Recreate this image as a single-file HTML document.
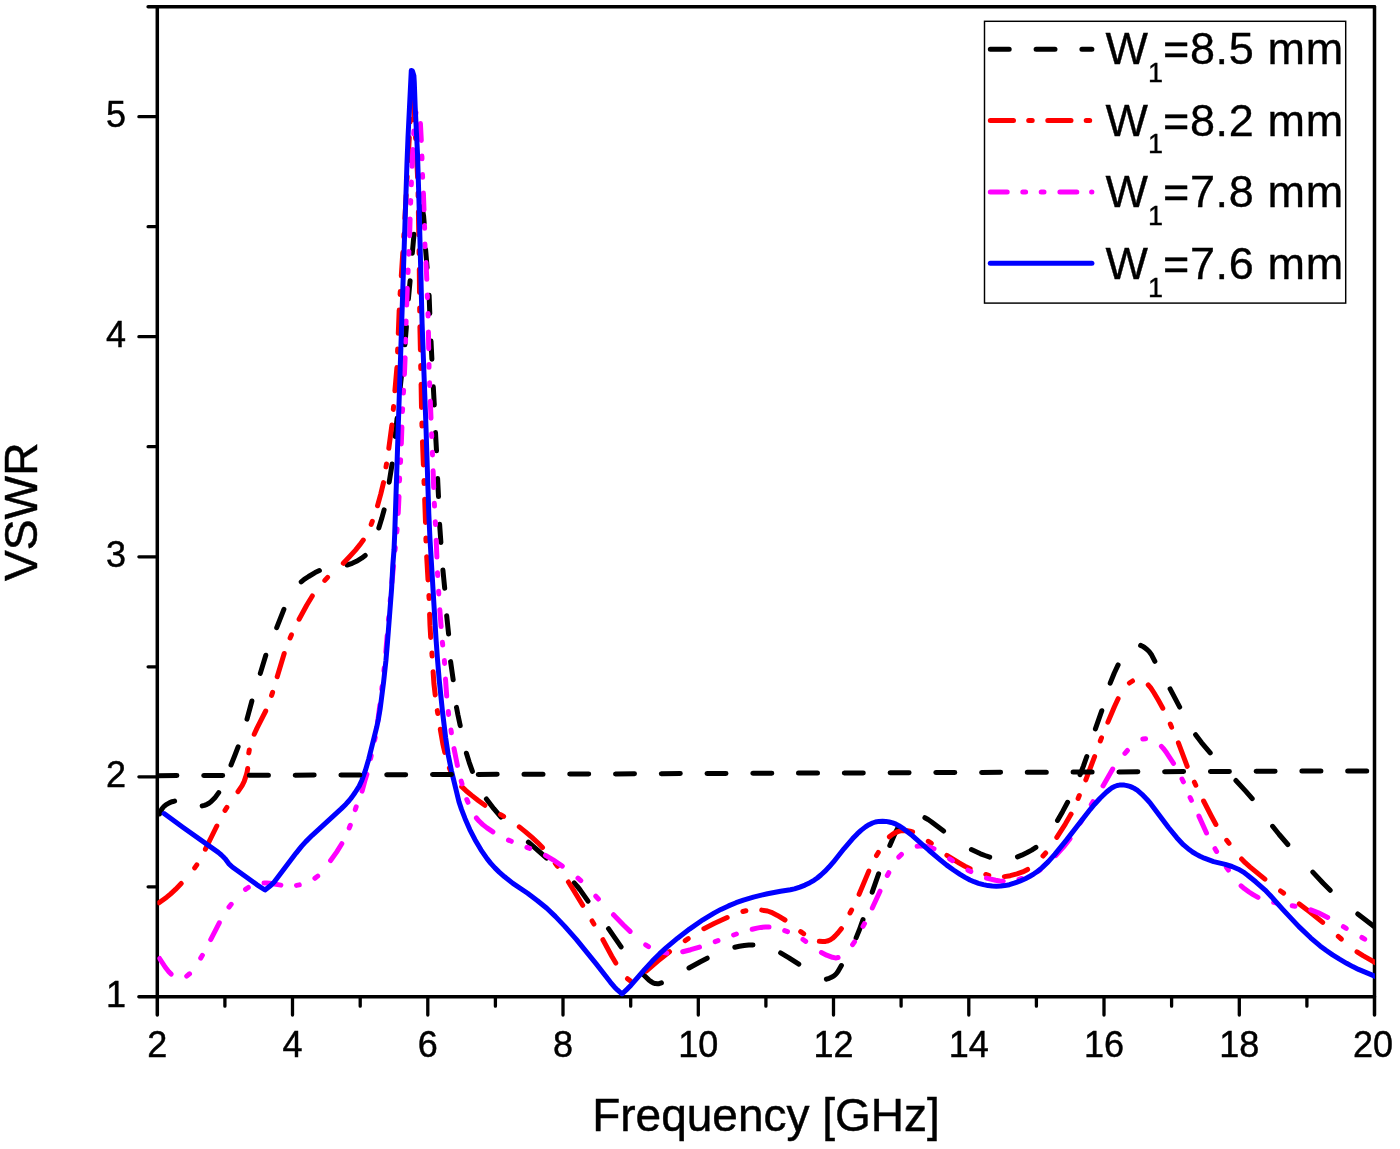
<!DOCTYPE html>
<html lang="en">
<head>
<meta charset="utf-8">
<title>VSWR versus Frequency</title>
<style>
html,body{margin:0;padding:0;background:#fff;}
body{width:1400px;height:1149px;overflow:hidden;}
svg{display:block;}
</style>
</head>
<body>
<svg width="1400" height="1149" viewBox="0 0 1400 1149">
<rect width="1400" height="1149" fill="#fff"/>
<g stroke="#000" fill="none" stroke-linecap="round">
<path stroke-width="3.5" d="M157.3 6.7V1015.0M1374.5 6.7V1015.0"/>
<path stroke-width="3.5" d="M148.1 6.7H1374.5M138.9 996.8H1374.5"/>
<path stroke-width="3.3" d="M224.9 996.8v9.4M292.5 996.8v18.3M360.2 996.8v9.4M427.8 996.8v18.3M495.4 996.8v9.4M563.0 996.8v18.3M630.7 996.8v9.4M698.3 996.8v18.3M765.9 996.8v9.4M833.5 996.8v18.3M901.1 996.8v9.4M968.8 996.8v18.3M1036.4 996.8v9.4M1104.0 996.8v18.3M1171.6 996.8v9.4M1239.3 996.8v18.3M1306.9 996.8v9.4M157.3 886.8h-9.2M157.3 776.8h-18.4M157.3 666.8h-9.2M157.3 556.8h-18.4M157.3 446.7h-9.2M157.3 336.7h-18.4M157.3 226.7h-9.2M157.3 116.7h-18.4"/>
</g>
<clipPath id="frame"><rect x="157.3" y="6.7" width="1217.6" height="990.1"/></clipPath>
<g fill="none" stroke-width="5.0" stroke-linecap="round" stroke-linejoin="round" clip-path="url(#frame)">
<path stroke="#000" d="M159.6 814L160.5 811.5 161.6 809.5 162.9 807.6 164.5 805.9 166.7 804.3 169.3 802.8 172.1 801.7 174.6 801.1M202.2 805.9L204.4 805.3 207 804.3 209 803.2 211.2 801.6 214.7 798.1 218.7 792.6M231 765L234.8 755.5 238.1 746.8M247 719.2L251.9 701M260.3 673.4L265.8 655.2M276.7 627.6L283.9 609.4M301.2 581.9L304.2 579.4 308.6 576.5 315.1 572.6 319.4 570.6M347 565L352.2 563.3 356.5 561.3 361.6 558.2 365.2 555.5M378.8 528L381.7 518.6 384.1 509.8M389.2 482.2L392.1 464M395.1 436.4L397.1 418.2M399.9 390.6L401.8 372.4M404.9 344.8L406.4 326.6M408.4 299L410.1 280.8M412.3 253.2L414 234.3M419.8 206.2L420.7 207 421.6 208 422.6 210.4 423.6 215.9 424.2 223.2M425.6 249.4L427.1 267.6M429.1 295.2L429.8 313.4M431 341L431.9 359.2M433.3 386.8L434.3 405M435.5 432.6L436.5 450.8M437.6 478.4L438.5 496.6M439.6 524.2L440.9 542.4M442.9 570L444.7 588.2M446.7 615.8L448.6 634M450.6 661.6L453.2 679.8M456.5 707.4L457.9 714.8 460.2 725.6M466.4 753.2L469.2 762.3 472.4 771.4M486.4 799L493.8 808.7 501 817.2M528.4 842.2L546.6 858M574.2 882.9L577.1 886.1 580.1 889.9 588 901.1M608.5 928.7L621.1 946.9M643.2 974.5L648.8 979.9 650.9 981.5 653.1 982.8 655.3 983.6 657.5 983.8 659 983.7 661.4 982.9M689 968L700.4 961.7 707.2 958.2M734.8 947.2L739.3 946.3 744.2 945.5 748.8 945.1 753 945M780.6 952.9L789 957.8 798.8 964.2M826.4 979.2L829.2 978.3 831.4 977.3 833.6 976.1 835.4 974.6 836.8 973.1 838.1 971.3 841.4 965.5M856.1 937.9L859.2 930.3 863 919.7M872.2 892.1L878.6 873.9M889.8 845.4L895.2 833.1 898.6 826.5M924.9 817.7L928.1 819.5 931.3 821.7 943.6 831.1M971.4 849.6L980.5 853.8 985 855.5 989.7 857.1M1017.5 856.8L1021.7 855.2 1026.7 852.8 1031.7 850.1 1035.9 847.4M1057.5 820.5L1062.7 811.4 1067.6 802.3M1080.1 774.7L1083.4 766.1 1086.8 756.5M1095.4 728.9L1101.8 710.7M1110.2 683.1L1114.3 673 1118.1 664.9M1140.6 645.4L1142.4 646.2 1144.5 647.5 1147 649.5 1149.1 651.6 1151.7 655.1 1154.9 661.3M1170.1 688.9L1179.7 707.1M1195.6 734.7L1201.5 742.6 1210.2 752.9M1235.9 780.5L1245.9 791.4 1252.2 798.7M1272.6 826.3L1279.2 834.5 1287.8 844.5M1312.8 872.1L1323.2 883.3 1330.2 890.3M1357.8 914L1376 928"/>
<path stroke="#f00" d="M159 902.8L166.7 897.2 170.4 894.1 175.5 889.4 181.2 883.5M194.7 867.9L196.8 864.9M205.4 849.2L216.8 826M225 810.4L226.9 807.4M238 791.7L242.1 785.6 244.2 781.4 246.3 775.1 247.2 771.6 247.7 768.5M248.8 752.9L249.3 749.9M254.2 734.2L257 728.1 265.7 711M271.6 695.4L272.6 692.4M277.2 676.7L284.2 653.5M290.1 637.9L291.4 634.9M299.1 619.2L306.7 605.2 312.3 596M324.8 580.4L327.6 577.4M343.3 563.3L349.7 556.5 355.5 550.1 359.7 544.9 363.3 540.1M371.2 524.4L372.3 521.4M377.5 505.8L380.8 493.8 383.5 482.6M386 466.9L386.5 463.9M388.8 448.3L391.9 425.1M393.3 409.4L393.6 406.4M394.9 390.8L396.9 367.6M397.6 351.9L397.7 348.9M398.3 333.3L399.2 310.1M400.1 294.4L400.3 291.4M401.3 275.8L402.8 252.6M403.8 236.9L404 233.9M404.9 218.3L406.2 195.1M407 179.4L407.2 176.4M408 160.8L409.3 137.6M410.2 121.9L410.4 118.9M412 103.3L412.5 100 413.2 104.5 413.7 109.5 414.3 119.9M415.4 135.6L415.6 138.6M416.5 154.2L417.6 177.4M418.1 193.1L418.1 196.1M418.4 211.7L418.8 234.9M419.1 250.6L419.1 253.6M419.3 269.2L419.5 292.4M419.7 308.1L419.7 311.1M419.9 326.7L420.4 349.9M420.7 365.6L420.8 368.6M421.1 384.2L421.5 407.4M421.9 423.1L422 426.1M422.5 441.7L423.4 464.9M424 480.6L424.1 483.6M424.7 499.2L425.5 522.4M425.9 538.1L426 541.1M426.7 556.7L428 579.9M428.9 595.6L429.1 598.6M429.6 614.2L430 625.4 430.7 637.4M431.9 653.1L432.1 656.1M433.1 671.7L433.9 683.4 435.2 694.9M437.3 710.6L437.8 713.6M440.3 729.2L442.8 743.6 444.8 752.4M449.4 768.1L450.6 771.1M461.7 786.7L466 790.7 471.7 795.4 478.2 800.5 484.9 805.3M500.6 814.6L503.6 816.4M519.3 826.9L525.2 831.6 531.7 837.2 537.6 842.6 542.5 847.5M555.3 863.3L557.5 866.3M568.4 882L573.7 890.4 582.7 905.3M592.1 921L593.9 924M602.9 939.7L611.8 956.3 615.8 963M627.5 978.7L630.5 981M646.2 971.2L658.1 960.9 669.5 951.7M685.2 940.7L688.2 938.7M703.9 928.7L714.1 923.6 727.2 917.6M742.9 911.5L745.9 910.8M761.7 910.1L767.5 911 771.3 912.3 777.4 915.4 785 920M800.7 931.6L803.7 933.7M819.3 941.3L822.7 941.5 825.5 941.4 828.3 940.7 830.4 939.8 832.6 938.3 835.2 935.9 838.1 932.7 841.4 928.6M850 913L851.6 910M859.1 894.3L868.8 871.1M876.5 855.5L878.3 852.5M889.4 836.8L892.1 834.6 894.7 833 897.8 831.6 900.5 830.8 903.3 830.5 907.2 830.7 910 831.2 912.6 832M928.3 841.3L931.3 843.4M946.9 855.4L959.2 863 964.9 866.2 970.1 868.8M985.8 874.5L988.8 875.3M1004.4 876.6L1010.2 875.7 1016.9 873.9 1022.7 871.9 1027.6 869.4M1043 856L1045.7 853M1056.8 837.3L1065.3 824.1 1071.1 814.1M1078.1 798.5L1079.3 795.5M1085.8 779.8L1094.6 756.6M1100.3 741L1101.5 737.9M1107.9 722.1L1114.4 706.7 1118.1 698.7M1129.4 683L1132.5 681M1148.2 684.8L1150.8 687.9 1154.1 693 1158.4 700.3 1162.8 708.2M1170.3 724L1171.6 727.1M1178.4 742.9L1187.2 766.3M1194.4 782.2L1195.8 785.2M1203.6 801L1211.3 816 1215.9 824.5M1226.7 840.3L1229 843.3M1241.6 859L1245.2 862.7 1250.2 867.1 1264.9 879.1M1280.6 891L1283.6 893.1M1299.3 903.9L1310.2 912.3 1322.7 922.4M1338.3 936.4L1341.3 939M1357 951.8L1363 955.6 1376 963"/>
<path stroke="#f0f" d="M159.6 958.5L165.1 967 168.8 971.7 171.1 974.1M186.7 976.1L189.5 973.8M200.7 958.1L202.4 955.3M210.7 939.6L219.3 922.8M229 907.1L231.2 904.3M245.5 889.4L248.3 887.5M264 882.9L266.7 883 269.7 883.2 280.9 885.1M296.5 885.4L299.3 884.9M314.9 878.3L317.7 876.1M330.6 860.5L336.6 852.1 341.8 843.7M349.2 828L350.3 825.3M355.3 809.6L356.2 806.8M362.1 791.1L364.8 781 366.9 774.3M370.6 758.6L371.2 755.8M374.6 740.2L375.2 737.4M377.7 721.7L379.9 704.8M381.8 689.2L382.1 686.4M383.9 670.8L384.2 668M385.8 652.2L387.2 635.4M388.5 619.8L388.8 617M390.2 601.3L390.4 598.6M391.9 582.8L393.5 566M395 550.3L395.3 547.6M396.8 531.9L397.1 529.1M398.2 513.4L399 496.6M399.5 480.9L399.6 478.1M400.5 462.5L400.6 459.7M401.3 444L401.9 427.1M402.4 411.5L402.6 408.7M403.4 393.1L403.6 390.3M404.4 374.5L405.1 357.7M405.5 342.1L405.6 339.3M406 323.6L406.1 320.9M406.7 305.1L407.3 288.3M408 272.6L408.1 269.9M408.8 254.2L408.9 251.4M409.6 235.7L410.1 218.9M410.6 203.2L410.7 200.4M411.3 184.8L411.4 182M412.1 166.3L412.9 149.4M413.7 133.8L413.9 131M415.5 115.4L416 112.6M420.4 123.5L421.3 140.4M421.9 156L422 158.8M422.5 174.5L422.6 177.3M423.4 193L424 209.8M424.5 225.5L424.6 228.3M424.9 243.9L425 246.7M426 262.4L426.8 279.3M427.3 294.9L427.4 297.7M428 313.4L428.1 316.1M428.4 331.9L428.7 348.7M429 364.4L429 367.2M429.6 382.8L429.7 385.6M430.3 401.3L431 418.2M431.6 433.8L431.7 436.6M432.4 452.3L432.5 455M433.1 470.8L433.7 487.6M434.3 503.3L434.5 506.1M435.3 521.7L435.5 524.5M436.2 540.2L436.9 557.1M437.5 572.7L437.7 575.5M438.6 591.2L438.8 593.9M439.8 609.7L441.1 626.5M442.4 642.2L442.7 645M444.4 660.6L444.6 663.4M445.5 679.1L446.7 696M448.3 711.6L448.6 714.4M451 730L451.4 732.8M454 748.6L457.4 765.4M461.2 781.1L462 783.9M466.8 799.5L468 802.3M476.4 818L479.3 821.3 482.8 824.6 487 827.9 492.9 831.9M508.5 840.1L511.3 841.3M526.9 847.3L529.7 848.4M545.5 855.3L553.1 859.8 562.3 866.1M578 878.1L580.8 880.6M595.8 896.2L598.4 899M613.5 914.7L623.7 925.2 630.1 931.4M645.7 944.9L648.5 946.6M664.2 952.6L666.9 953.1M682.7 951.7L690.7 949.7 699.5 947.1M715.2 941.6L718 940.6M733.6 935L736.4 934M752.2 929.3L757 928.1 760.9 927.4 765.5 927 769 927M784.7 930.7L787.5 931.7M803 939.5L805.7 941.3M821.4 952.6L826.6 955.2 832.4 957.3 835.3 957.9 836.4 957.9 838.1 957.5M852.6 944.6L854.5 941.9M863 926.4L864.5 923.6M872.3 908L880 891.2M887.3 875.5L888.8 872.7M898.8 857.1L901.4 854.4M917.1 846.3L921.5 845.8 925.5 846.1 929.7 847.1 934 848.9M949.6 858.9L952.4 860.7M968 870.2L970.8 871.6M986.5 878.1L995.6 880.3 999.7 881 1003.3 881.2M1019 879.3L1021.8 878.5M1037.4 871.6L1040.2 869.9M1055.7 855.6L1063.4 847.1 1070 838.7M1080.2 823L1081.9 820.2M1091.3 804.5L1093 801.7M1103 785.9L1112.7 769M1124.9 753.3L1127.4 750.5M1142.8 739L1145.6 738.7M1161.4 746.4L1163.8 749 1166.6 752.8 1173.5 763.3M1182 779L1183.4 781.8M1190.1 797.5L1191.4 800.3M1198.9 816.1L1206.5 833M1215 848.7L1216.6 851.5M1226.4 867.2L1228.4 870M1241.1 885.8L1244.6 888.8 1249 892 1253.5 894.9 1258 897.4M1273.7 902.4L1276.5 903M1292.2 905.7L1295 906.2M1310.8 909.8L1318.4 912.8 1327.7 917.4M1343.4 926.7L1346.2 928.4M1361.9 937.5L1364.7 939.2"/>
<path stroke="#00f" d="M164.1 813.6L183.5 827.7 218.3 852.4 221.4 855 223.2 856.7 225 858.6 228.7 863.6 232.3 867 244.5 875.7 256.7 884.6 265 890 270.7 885.5 274.2 881.9 296.1 853.1 301.5 846.4 305.8 841.6 312.2 835.3 341.1 808.9 345.9 804.2 349.2 800.5 351.7 797.4 354.8 793 359.2 786.1 361.9 780.2 365.3 770.7 368.7 759.2 376.7 727.2 378.5 718.7 380.1 709.2 383.6 682 385.9 660.8 387.4 643.2 391.6 588.6 392.8 565.5 394 550 394.7 534.3 407 162.5 408 137.5 411.3 70.4 412.3 71 412.5 71.3 413.9 75.8 414.3 82.5 415.2 107.4 417.5 153.5 418.9 198.4 422.1 323.7 425.8 421.8 428.8 513.5 430 539.5 436.1 640.2 437.6 660.6 439.2 679.7 442.4 710.7 445.6 737.4 448.2 754.7 451.4 770.6 459 801.9 461.5 809.4 465.1 818.7 469.8 829.6 475 839.7 481.1 850.1 487.2 858.9 490.8 863.4 494.9 867.9 499.2 872.1 504.6 876.8 512.9 883.4 527.6 893.3 537.5 900.7 546.8 908.3 555.3 916.4 564.8 926.4 576.3 939.4 596.2 963.9 610.5 982.3 614.4 986.9 617.4 989.9 622 994 627.7 988.6 631 985.2 644.7 969.4 652.3 961.1 659.7 953.7 666.3 947.6 677.6 938.2 689.5 929.1 702.9 919.8 714 913.1 720.9 909.4 728.5 905.9 736.1 902.7 743.4 900.1 753.4 897.1 767.5 893.7 780.6 891.2 790.3 889.8 794.4 888.9 799.9 887.1 805 885.1 809.9 882.7 814 880.3 817.3 878 820.9 875 824.8 871.4 829 867.1 833.3 862.2 843.9 848.8 852.7 838.6 857.2 833.9 861 830.4 865.5 826.9 869 824.7 872.5 823 875.4 822 878.9 821.4 882.5 821.2 885.8 821.4 889.2 822 892.7 822.9 896 824.2 898.8 825.7 904.1 829.2 912.6 835.8 929.1 850.5 940.2 859.8 946.7 865.1 953.5 870 960.1 874.4 965.1 877.4 970 880 974 881.7 978.5 883.3 983.4 884.6 988 885.6 992.2 886.1 996.3 886.3 1000.8 886.1 1004.7 885.6 1009.4 884.7 1014.1 883.2 1019.7 881.2 1025.3 878.7 1029.5 876.5 1034 873.8 1037.7 871.2 1041.8 867.9 1048.1 861.9 1054.8 854.4 1066.2 840.4 1090.3 809.3 1094.6 804.2 1100.1 798.2 1106.3 792.2 1110.3 789 1112.6 787.4 1114.5 786.5 1117.2 785.5 1119.5 785.1 1121.9 784.9 1124.3 785.1 1127.1 785.6 1129.9 786.4 1132.8 787.6 1135 788.8 1137.2 790.2 1142 794.3 1147.5 800 1150.5 803.4 1168.5 827.5 1176.8 837.7 1183.3 844.7 1189.2 849.6 1192.5 852 1196.5 854.4 1200 856.3 1204.3 858.2 1213.6 861.6 1225.3 864.4 1232 866.5 1238.4 869.2 1243.4 872.1 1247.6 875.2 1255.7 881.8 1265.1 890.1 1270.3 895.5 1283.2 909.8 1298.9 926.6 1310.6 937.8 1320.1 945.9 1326.3 950.5 1332.6 954.9 1339.5 959.2 1346.6 963.3 1352.7 966.6 1358.5 969.4 1376 976.6"/>
<path stroke="#000" d="M157.9 775.7L176.9 775.6M203.7 775.5L222.7 775.4M249.4 775.3L268.4 775.3M295.2 775.2L314.2 775.1M340.9 775L359.9 774.9M386.7 774.8L405.7 774.7M432.5 774.6L451.5 774.5M478.2 774.4L497.2 774.3M524 774.2L543 774.2M569.7 774.1L588.7 774M615.5 773.9L634.5 773.8M661.3 773.7L680.3 773.6M707 773.5L726 773.4M752.8 773.3L771.8 773.2M798.5 773.1L817.5 773.1M844.3 773L863.3 772.9M890.1 772.8L909.1 772.7M935.8 772.6L954.8 772.5M981.6 772.4L1000.6 772.3M1027.3 772.2L1046.3 772.2M1073.1 772L1092.1 772M1118.9 771.9L1137.9 771.8M1164.6 771.7L1183.6 771.6M1210.4 771.5L1229.4 771.4M1256.1 771.3L1275.1 771.2M1301.9 771.1L1320.9 771.1M1347.7 770.9L1366.7 770.9"/>
</g>
<g font-family="'Liberation Sans', sans-serif" fill="#000" stroke="#000" stroke-width="0.45">
<g font-size="36" text-anchor="middle">
<text x="157.3" y="1056.7">2</text>
<text x="292.5" y="1056.7">4</text>
<text x="427.8" y="1056.7">6</text>
<text x="563.0" y="1056.7">8</text>
<text x="698.3" y="1056.7">10</text>
<text x="833.5" y="1056.7">12</text>
<text x="968.8" y="1056.7">14</text>
<text x="1104.0" y="1056.7">16</text>
<text x="1239.3" y="1056.7">18</text>
<text x="1373.0" y="1056.7">20</text>
</g>
<g font-size="36" text-anchor="end">
<text x="126" y="1006.6">1</text>
<text x="126" y="786.6">2</text>
<text x="126" y="566.6">3</text>
<text x="126" y="346.5">4</text>
<text x="126" y="126.5">5</text>
</g>
<text font-size="46" text-anchor="middle" x="766" y="1130.5">Frequency [GHz]</text>
<text font-size="46.2" text-anchor="middle" transform="translate(37.4 511.8) rotate(-90)">VSWR</text>
</g>
<rect x="984.5" y="21.3" width="361.2" height="281.8" fill="#fff" stroke="#000" stroke-width="1.45"/>
<g fill="none" stroke-width="5.0" stroke-linecap="round">
<path stroke="#000" d="M990.3 49.2H1091.9" stroke-dasharray="18.9 26.9"/>
<path stroke="#f00" d="M990.3 120.4H1091.9" stroke-dasharray="23.2 15.2 3.5 15.6"/>
<path stroke="#f0f" d="M990.3 192.1H1091.9" stroke-dasharray="16.9 15.6 2.8 15.6 2.8 15.9 16.9 14.8 3 100"/>
<path stroke="#00f" d="M990.3 263.2H1091.9"/>
</g>
<g font-family="'Liberation Sans', sans-serif" fill="#000" stroke="#000" stroke-width="0.35" font-size="45">
<text x="1105.5" y="64.3">W<tspan font-size="27" dy="17.5">1</tspan><tspan dy="-17.5" letter-spacing="0.65">=8.5 mm</tspan></text>
<text x="1105.5" y="135.7">W<tspan font-size="27" dy="17.5">1</tspan><tspan dy="-17.5" letter-spacing="0.65">=8.2 mm</tspan></text>
<text x="1105.5" y="207.3">W<tspan font-size="27" dy="17.5">1</tspan><tspan dy="-17.5" letter-spacing="0.65">=7.8 mm</tspan></text>
<text x="1105.5" y="279.0">W<tspan font-size="27" dy="17.5">1</tspan><tspan dy="-17.5" letter-spacing="0.65">=7.6 mm</tspan></text>
</g>
</svg>
</body>
</html>
